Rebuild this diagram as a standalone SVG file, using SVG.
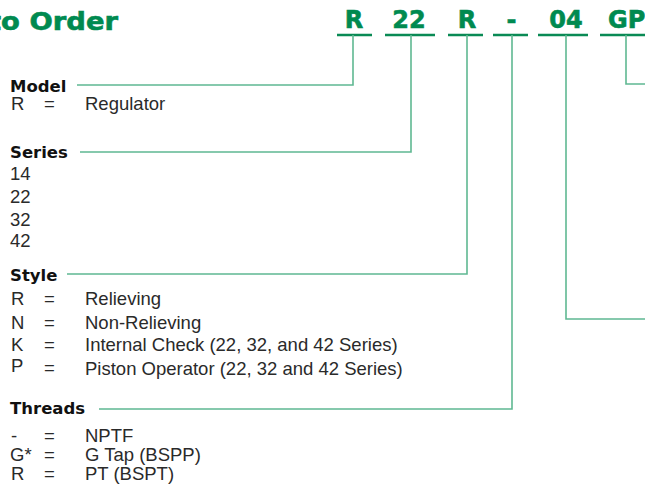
<svg xmlns="http://www.w3.org/2000/svg" width="645" height="487" viewBox="0 0 645 487">
<style>
.title{font-family:"DejaVu Sans","Liberation Sans",sans-serif;font-weight:bold;font-size:25px;fill:#008a50;stroke:#008a50;stroke-width:0.6}
.code{font-family:"DejaVu Sans","Liberation Sans",sans-serif;font-weight:bold;font-size:24px;fill:#008a50;stroke:#008a50;stroke-width:0.6;text-anchor:middle}
.uline{stroke:#0a8a55;stroke-width:2.5;fill:none}
.conn{stroke:#5fb892;stroke-width:1.6;fill:none}
.head{font-family:"DejaVu Sans","Liberation Sans",sans-serif;font-weight:bold;font-size:16.5px;fill:#111}
.body{font-family:"Liberation Sans",Arial,sans-serif;font-size:18.5px;fill:#2a2a2a}
</style>
<rect width="645" height="487" fill="#fff"/>
<g id="title"><text class="title" x="-12" y="30" textLength="130" lengthAdjust="spacingAndGlyphs">to Order</text></g>
<g id="codes">
<text class="code" x="354" y="28">R</text>
<text class="code" x="409" y="28">22</text>
<text class="code" x="467" y="28">R</text>
<text class="code" x="511.5" y="28">-</text>
<text class="code" x="566" y="28">04</text>
<text class="code" x="608" y="28" style="text-anchor:start">GP</text>
<path class="uline" d="M337 35H372M385 35H435M448 35H483M493 35H528M538 35H588M600 35H645"/>
</g>
<g id="connectors">
<polyline class="conn" points="77,85 353,85 353,35"/>
<polyline class="conn" points="80,152 411,152 411,35"/>
<polyline class="conn" points="67,274 467,274 467,35"/>
<polyline class="conn" points="99,409 512,409 512,35"/>
<polyline class="conn" points="566,35 566,319 645,319"/>
<polyline class="conn" points="626,35 626,84 645,84"/>
</g>
<g id="model">
<text class="head" x="10" y="92">Model</text>
<text class="body" x="11" y="110">R</text><text class="body" x="44" y="110">=</text><text class="body" x="85" y="110">Regulator</text>
</g>
<g id="series">
<text class="head" x="10" y="158">Series</text>
<text class="body" x="10" y="180">14</text>
<text class="body" x="10" y="203">22</text>
<text class="body" x="10" y="226">32</text>
<text class="body" x="10" y="247">42</text>
</g>
<g id="style">
<text class="head" x="10" y="281">Style</text>
<text class="body" x="11" y="305">R</text><text class="body" x="44" y="305">=</text><text class="body" x="85" y="305">Relieving</text>
<text class="body" x="11" y="329">N</text><text class="body" x="44" y="329">=</text><text class="body" x="85" y="329">Non-Relieving</text>
<text class="body" x="11" y="351">K</text><text class="body" x="44" y="351">=</text><text class="body" x="85" y="351">Internal Check (22, 32, and 42 Series)</text>
<text class="body" x="11" y="372">P</text><text class="body" x="44" y="374">=</text><text class="body" x="85" y="375">Piston Operator (22, 32 and 42 Series)</text>
</g>
<g id="threads">
<text class="head" x="10" y="414">Threads</text>
<text class="body" x="11" y="442">-</text><text class="body" x="44" y="442">=</text><text class="body" x="85" y="442">NPTF</text>
<text class="body" x="10" y="461">G*</text><text class="body" x="44" y="461">=</text><text class="body" x="85" y="461">G Tap (BSPP)</text>
<text class="body" x="11" y="480">R</text><text class="body" x="44" y="480">=</text><text class="body" x="85" y="480">PT (BSPT)</text>
</g>
</svg>
